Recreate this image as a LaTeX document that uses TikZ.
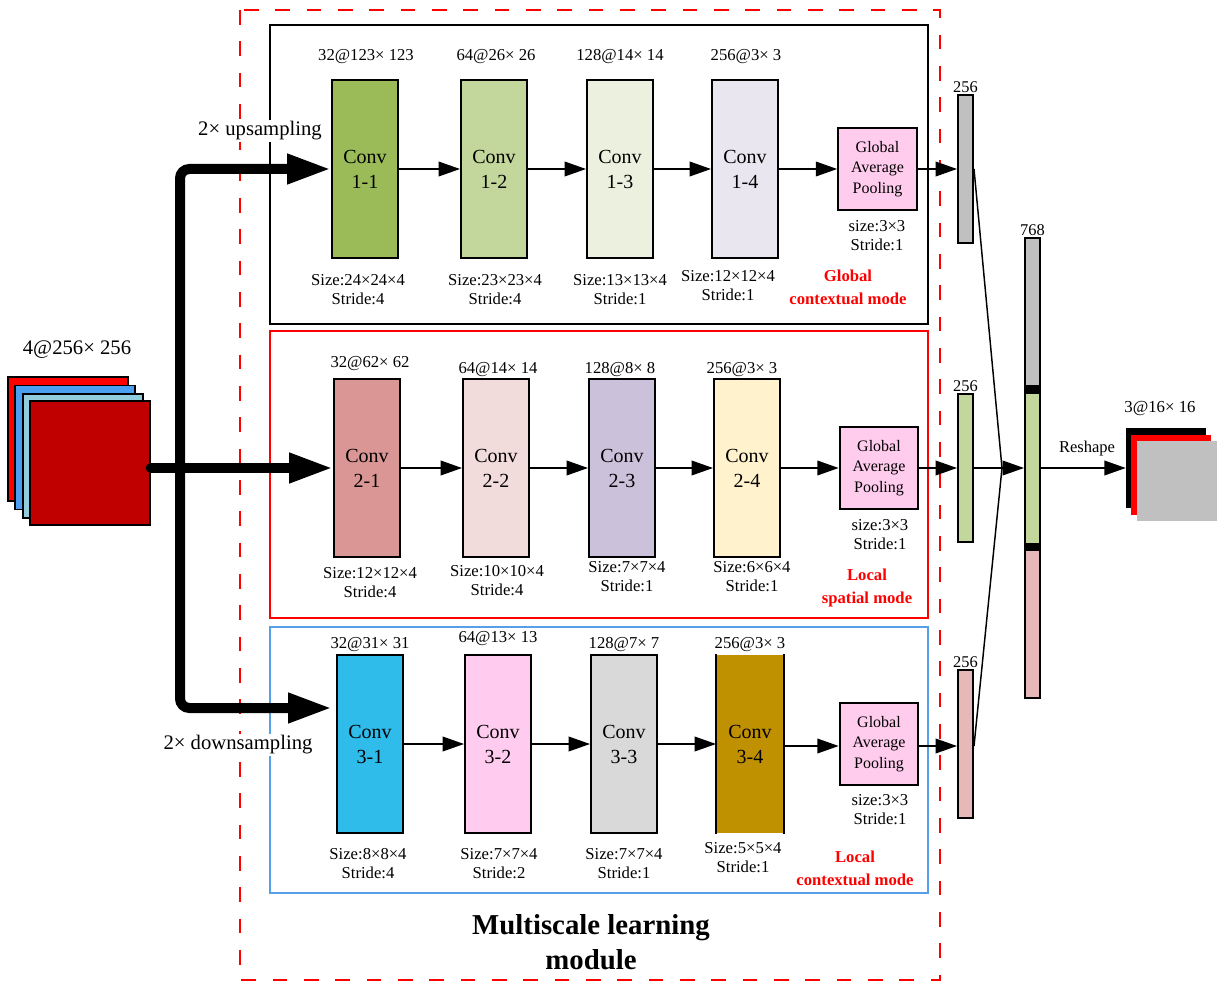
\documentclass[tikz,border=0pt]{standalone}
\usepackage{fontspec}
\setmainfont{Liberation Serif}
\usetikzlibrary{arrows.meta}
\definecolor{cA}{HTML}{9BBB59}
\definecolor{cB}{HTML}{C3D69B}
\definecolor{cC}{HTML}{EBF1DE}
\definecolor{cD}{HTML}{EAE6EF}
\definecolor{cE}{HTML}{D99694}
\definecolor{cF}{HTML}{F2DCDB}
\definecolor{cG}{HTML}{CCC1DA}
\definecolor{cH}{HTML}{FFF2CC}
\definecolor{cI}{HTML}{2FBCEA}
\definecolor{cJ}{HTML}{FFCCF0}
\definecolor{cK}{HTML}{D9D9D9}
\definecolor{cL}{HTML}{BF9000}
\definecolor{gapc}{HTML}{FFCCEE}
\definecolor{barg}{HTML}{C0C0C0}
\definecolor{barp}{HTML}{E6B9B8}
\definecolor{inblue}{HTML}{4A9FF0}
\definecolor{inlb}{HTML}{92CDDC}
\definecolor{indr}{HTML}{C00000}
\definecolor{frblue}{HTML}{55A0E8}
\begin{document}
\begin{tikzpicture}[x=0.75pt,y=-0.75pt,
  conv/.style={draw=black, line width=1.5pt, minimum width=49.5pt, minimum height=133.5pt, inner sep=0pt, align=center, font=\fontsize{15}{18.75}\selectfont},
  gapbox/.style={draw=black, line width=1.5pt, fill=gapc, minimum width=59pt, minimum height=61.5pt, inner sep=0pt, align=center, font=\fontsize{12}{15.4}\selectfont},
  lbl/.style={align=center, inner sep=0pt, font=\fontsize{12.5}{14.25}\selectfont},
  modelbl/.style={align=center, inner sep=0pt, text=red, font=\bfseries\fontsize{12.5}{17}\selectfont},
  barbox/.style={draw=black, line width=1.5pt, minimum width=11.25pt, minimum height=111pt, inner sep=0pt},
  barlbl/.style={anchor=south, inner sep=1pt, font=\fontsize{12.3}{14}\selectfont},
  arr/.style={line width=1.1pt, -{Triangle[length=16pt,width=11pt]}},
  bigline/.style={line width=7.5pt},
  sq/.style={draw=black, line width=1pt, minimum width=90pt, minimum height=93pt, inner sep=0pt},
  osq/.style={minimum width=60pt, minimum height=60pt, inner sep=0pt},
  samp/.style={fill=white, inner sep=1pt, font=\fontsize{15.5}{18}\selectfont}
]
\useasboundingbox (0,0) rectangle (1217,984);

% frames
\draw[red, line width=2pt, dash pattern=on 11pt off 12.5pt] (240,10) rectangle (940,980);
\draw[black, line width=1.3pt] (270,25) rectangle (928,324);
\draw[red, line width=1.3pt] (270,331) rectangle (928,618);
\draw[frblue, line width=1.3pt] (270,627) rectangle (928,893);

% input stack
\node[sq, fill=red] (ina) at (68,439) {};
\node[sq, fill=inblue] (inb) at (75,447.5) {};
\node[sq, fill=inlb] (inc) at (83,456) {};
\node[sq, fill=indr] (ind) at (90,463) {};
\node[font=\fontsize{15.5}{18}\selectfont] (inlab) at (77,350) {4@256× 256};

% row 1
\node[conv, fill=cA] (c11) at (365,169) {Conv\\1-1};
\node[conv, fill=cB] (c12) at (494,169) {Conv\\1-2};
\node[conv, fill=cC] (c13) at (620,169) {Conv\\1-3};
\node[conv, fill=cD] (c14) at (745,169) {Conv\\1-4};
\node[gapbox] (g1) at (877.5,169) {Global\\Average\\Pooling};
\draw[arr] (c11.east) -- (c12.west);
\draw[arr] (c12.east) -- (c13.west);
\draw[arr] (c13.east) -- (c14.west);
\draw[arr] (c14.east) -- (g1.west);
\node[lbl] (t11) at (366,57) {32@123× 123};
\node[lbl] (t12) at (496,57) {64@26× 26};
\node[lbl] (t13) at (620,57) {128@14× 14};
\node[lbl] (t14) at (746,57) {256@3× 3};
\node[lbl] (s11) at (358,289.5) {Size:24×24×4\\Stride:4};
\node[lbl] (s12) at (495,289.5) {Size:23×23×4\\Stride:4};
\node[lbl] (s13) at (620,289.5) {Size:13×13×4\\Stride:1};
\node[lbl] (s14) at (728,285.5) {Size:12×12×4\\Stride:1};
\node[lbl] (sg1) at (877,235.5) {size:3×3\\Stride:1};
\node[modelbl] (m1) at (848,287.5) {Global\\contextual mode};

% row 2
\node[conv, fill=cE] (c21) at (367,468) {Conv\\2-1};
\node[conv, fill=cF] (c22) at (496,468) {Conv\\2-2};
\node[conv, fill=cG] (c23) at (622,468) {Conv\\2-3};
\node[conv, fill=cH] (c24) at (747,468) {Conv\\2-4};
\node[gapbox] (g2) at (879,468) {Global\\Average\\Pooling};
\draw[arr] (c21.east) -- (c22.west);
\draw[arr] (c22.east) -- (c23.west);
\draw[arr] (c23.east) -- (c24.west);
\draw[arr] (c24.east) -- (g2.west);
\node[lbl] (t21) at (370,364) {32@62× 62};
\node[lbl] (t22) at (498,370) {64@14× 14};
\node[lbl] (t23) at (620,370) {128@8× 8};
\node[lbl] (t24) at (742,370) {256@3× 3};
\node[lbl] (s21) at (370,583) {Size:12×12×4\\Stride:4};
\node[lbl] (s22) at (497,581) {Size:10×10×4\\Stride:4};
\node[lbl] (s23) at (627,577) {Size:7×7×4\\Stride:1};
\node[lbl] (s24) at (752,577) {Size:6×6×4\\Stride:1};
\node[lbl] (sg2) at (880,534.5) {size:3×3\\Stride:1};
\node[modelbl] (m2) at (867,588) {Local\\spatial mode};

% row 3
\node[conv, fill=cI] (c31) at (370,744) {Conv\\3-1};
\node[conv, fill=cJ] (c32) at (498,744) {Conv\\3-2};
\node[conv, fill=cK] (c33) at (624,744) {Conv\\3-3};
\node[conv, fill=cL, draw=none] (c34) at (750,744) {Conv\\3-4};
\draw[line width=1.5pt] (c34.north west) -- (c34.south west);
\draw[line width=1.5pt] (c34.north east) -- (c34.south east);
\node[gapbox] (g3) at (879,744) {Global\\Average\\Pooling};
\draw[arr] (c31.east) -- (c32.west);
\draw[arr] (c32.east) -- (c33.west);
\draw[arr] (c33.east) -- (c34.west);
\draw[arr] (c34.east |- 0,746) -- (g3.west |- 0,746);
\node[lbl] (t31) at (370,645) {32@31× 31};
\node[lbl] (t32) at (498,639) {64@13× 13};
\node[lbl] (t33) at (624,645) {128@7× 7};
\node[lbl] (t34) at (750,645) {256@3× 3};
\node[lbl] (s31) at (368,864) {Size:8×8×4\\Stride:4};
\node[lbl] (s32) at (499,864) {Size:7×7×4\\Stride:2};
\node[lbl] (s33) at (624,864) {Size:7×7×4\\Stride:1};
\node[lbl] (s34) at (743,858) {Size:5×5×4\\Stride:1};
\node[lbl] (sg3) at (880,810) {size:3×3\\Stride:1};
\node[modelbl] (m3) at (855,868) {Local\\contextual mode};

% thick input arrows
\draw[bigline, {Triangle[length=33pt,width=21pt]}-{Triangle[length=33pt,width=21pt]}, rounded corners=7pt] (c11.west) -- (180,169) -- (180,708) -- (332,708);
\draw[bigline, line cap=round, -{Triangle[length=33pt,width=21pt]}] (ind.east |- c21.west) -- (c21.west);
\node[samp] (up) at (260,131) {2× upsampling};
\node[samp] (down) at (238,745) {2× downsampling};

% feature vectors
\node[barbox, fill=barg] (b1) at (965.5,169) {};
\node[barbox, fill=cB] (b2) at (965.5,468) {};
\node[barbox, fill=barp] (b3) at (965.5,744) {};
\node[barlbl] (lb1) at (b1.north) {256};
\node[barlbl] (lb2) at (b2.north) {256};
\node[barlbl] (lb3) at (b3.north) {256};
\draw[arr] (g1.east) -- (b1.west);
\draw[arr] (g2.east) -- (b2.west);
\draw[arr] (g3.east |- 0,746) -- (b3.west |- 0,746);

% concatenated vector
\fill[barg] (1025,238) rectangle (1040,385);
\fill[black] (1025,385) rectangle (1040,394);
\fill[cB] (1025,394) rectangle (1040,543);
\fill[black] (1025,543) rectangle (1040,551);
\fill[barp] (1025,551) rectangle (1040,698);
\node[barbox, minimum height=345pt] (cat) at (1032.5,468) {};
\node[barlbl] (lcat) at (cat.north) {768};
\coordinate (m) at (1002,468);
\draw[line width=1.1pt] (b1.east) -- (m);
\draw[line width=1.1pt] (b3.east |- 0,746) -- (m);
\draw[arr] (b2.east) -- (cat.west);

% output
\node[osq, fill=black] (oa) at (1166,468) {};
\node[osq, fill=red] (ob) at (1171,475) {};
\node[osq, fill=barg] (oc) at (1177,481) {};
\node[font=\fontsize{12.6}{15}\selectfont] (olab) at (1160,408) {3@16× 16};
\draw[arr] (cat.east) -- (oa.west);
\node[font=\fontsize{12.4}{15}\selectfont] (resh) at (1087,449) {Reshape};

% title
\node[align=center, font=\bfseries\fontsize{21.6}{26}\selectfont] (title) at (591,942) {Multiscale learning\\module};
\end{tikzpicture}
\end{document}
